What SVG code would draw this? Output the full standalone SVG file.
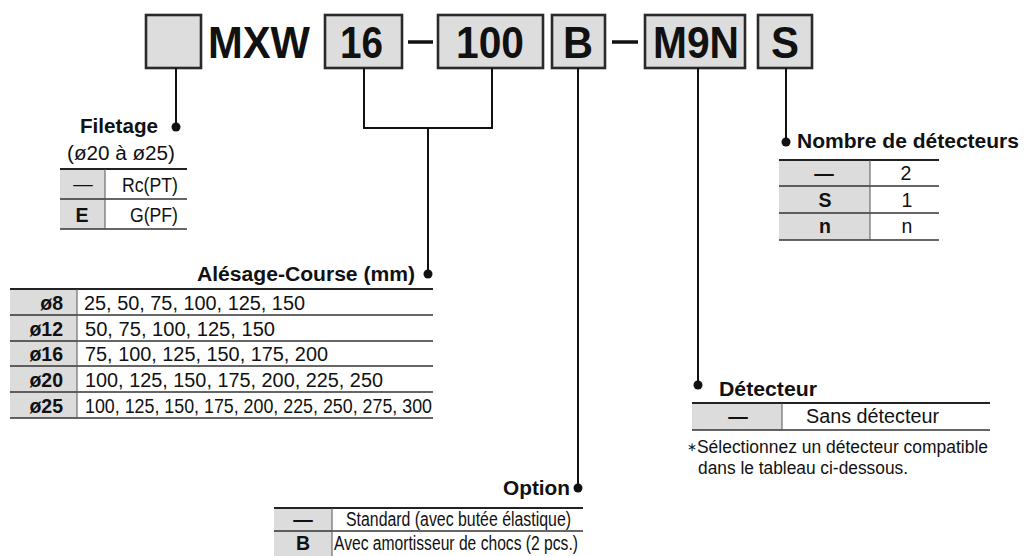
<svg xmlns="http://www.w3.org/2000/svg" width="1024" height="556" viewBox="0 0 1024 556">
<style>
  text { font-family: "Liberation Sans", Arial, Helvetica, sans-serif; fill: #111; }
  .title { font-size: 44px; font-weight: bold; }
  .lbl { font-size: 20px; font-weight: bold; }
  .cell { font-size: 19.5px; }
  .cellb { font-size: 19.5px; font-weight: bold; }
  .small { font-size: 17.5px; }
  .opt { font-size: 19.5px; }
  .box { fill: #dddddd; stroke: #2a2a2a; stroke-width: 2.6; }
  .gray { fill: #dcdcdc; }
  .wire { fill: none; stroke: #111; stroke-width: 2; }
  .dot { fill: #111; }
  .top { stroke: #222; stroke-width: 2.2; }
  .sep { stroke: #333; stroke-width: 1.4; }
  .div { stroke: #555; stroke-width: 1; }
  .dash { stroke: #111; stroke-width: 3.5; }
</style>

<g id="header">
  <g id="box-empty"><rect class="box" x="146" y="15" width="55" height="53"/></g>
  <g id="mxw"><text class="title" x="208" y="58" textLength="102" lengthAdjust="spacingAndGlyphs">MXW</text></g>
  <g id="box-16"><rect class="box" x="325" y="15" width="77" height="53"/><text class="title" x="340" y="58" textLength="43" lengthAdjust="spacingAndGlyphs">16</text></g>
  <line class="dash" x1="408" y1="42" x2="433" y2="42"/>
  <g id="box-100"><rect class="box" x="438" y="15" width="105" height="53"/><text class="title" x="456" y="58" textLength="68" lengthAdjust="spacingAndGlyphs">100</text></g>
  <g id="box-B"><rect class="box" x="552" y="15" width="53" height="53"/><text class="title" x="563" y="58" textLength="30" lengthAdjust="spacingAndGlyphs">B</text></g>
  <line class="dash" x1="612" y1="42" x2="638" y2="42"/>
  <g id="box-M9N"><rect class="box" x="645" y="15" width="100" height="53"/><text class="title" x="653" y="58" textLength="86" lengthAdjust="spacingAndGlyphs">M9N</text></g>
  <g id="box-S"><rect class="box" x="758" y="15" width="54" height="53"/><text class="title" x="771" y="58" textLength="28" lengthAdjust="spacingAndGlyphs">S</text></g>
</g>

<g id="connectors">
  <path class="wire" d="M176 68 V127"/>
  <circle class="dot" cx="176" cy="127" r="4.5"/>
  <path class="wire" d="M364 68 V128 H492 V68"/>
  <path class="wire" d="M428 128 V274"/>
  <circle class="dot" cx="428" cy="274" r="4.5"/>
  <path class="wire" d="M578 68 V488"/>
  <circle class="dot" cx="578" cy="488" r="4.5"/>
  <path class="wire" d="M698 68 V385"/>
  <circle class="dot" cx="698" cy="385" r="4.5"/>
  <path class="wire" d="M786 68 V142"/>
  <circle class="dot" cx="786" cy="142" r="4.5"/>
</g>

<g id="filetage">
  <text class="lbl" x="80" y="133" textLength="78" lengthAdjust="spacingAndGlyphs">Filetage</text>
  <text class="cell" x="67" y="160" textLength="108" lengthAdjust="spacingAndGlyphs">(ø20 à ø25)</text>
  <rect class="gray" x="60" y="169" width="45" height="60"/>
  <line class="top" x1="60" y1="169" x2="187" y2="169"/>
  <line class="sep" x1="60" y1="199" x2="187" y2="199"/>
  <line class="sep" x1="60" y1="229" x2="187" y2="229"/>
  <line class="div" x1="105" y1="169" x2="105" y2="229"/>
  <text class="cell" x="83" y="191" text-anchor="middle" font-size="20">—</text>
  <text class="cell" x="122" y="192" textLength="56" lengthAdjust="spacingAndGlyphs">Rc(PT)</text>
  <text class="cellb" x="82" y="222" text-anchor="middle">E</text>
  <text class="cell" x="130" y="222" textLength="48" lengthAdjust="spacingAndGlyphs">G(PF)</text>
</g>

<g id="alesage">
  <text class="lbl" x="197" y="281" textLength="218" lengthAdjust="spacingAndGlyphs">Alésage-Course (mm)</text>
  <rect class="gray" x="10" y="289" width="67" height="129"/>
  <line class="top" x1="10" y1="289" x2="433" y2="289"/>
  <line class="sep" x1="10" y1="315" x2="433" y2="315"/>
  <line class="sep" x1="10" y1="341" x2="433" y2="341"/>
  <line class="sep" x1="10" y1="366" x2="433" y2="366"/>
  <line class="sep" x1="10" y1="392" x2="433" y2="392"/>
  <line class="sep" x1="10" y1="418" x2="433" y2="418"/>
  <line class="div" x1="77" y1="289" x2="77" y2="418"/>
  <text class="cellb" x="63" y="310" text-anchor="end">ø8</text>
  <text class="cellb" x="63" y="336" text-anchor="end">ø12</text>
  <text class="cellb" x="63" y="361" text-anchor="end">ø16</text>
  <text class="cellb" x="63" y="387" text-anchor="end">ø20</text>
  <text class="cellb" x="63" y="413" text-anchor="end">ø25</text>
  <text class="cell" x="84" y="310" textLength="221" lengthAdjust="spacingAndGlyphs">25, 50, 75, 100, 125, 150</text>
  <text class="cell" x="85" y="336" textLength="190" lengthAdjust="spacingAndGlyphs">50, 75, 100, 125, 150</text>
  <text class="cell" x="85" y="361" textLength="243" lengthAdjust="spacingAndGlyphs">75, 100, 125, 150, 175, 200</text>
  <text class="cell" x="85" y="387" textLength="298" lengthAdjust="spacingAndGlyphs">100, 125, 150, 175, 200, 225, 250</text>
  <text class="cell" x="85" y="413" textLength="347" lengthAdjust="spacingAndGlyphs">100, 125, 150, 175, 200, 225, 250, 275, 300</text>
</g>

<g id="nombre">
  <text class="lbl" x="797" y="148" textLength="222" lengthAdjust="spacingAndGlyphs">Nombre de détecteurs</text>
  <rect class="gray" x="779" y="160" width="91" height="80"/>
  <line class="top" x1="779" y1="160" x2="939" y2="160"/>
  <line class="sep" x1="779" y1="186" x2="939" y2="186"/>
  <line class="sep" x1="779" y1="213" x2="939" y2="213"/>
  <line class="sep" x1="779" y1="240" x2="939" y2="240"/>
  <line class="div" x1="870" y1="160" x2="870" y2="240"/>
  <text class="cellb" x="824" y="180" text-anchor="middle" font-size="21">—</text>
  <text class="cell" x="906" y="180" text-anchor="middle">2</text>
  <text class="cellb" x="825" y="207" text-anchor="middle">S</text>
  <text class="cell" x="907" y="207" text-anchor="middle">1</text>
  <text class="cellb" x="825" y="233" text-anchor="middle">n</text>
  <text class="cell" x="907" y="233" text-anchor="middle">n</text>
</g>

<g id="detecteur">
  <text class="lbl" x="719" y="396" textLength="98" lengthAdjust="spacingAndGlyphs">Détecteur</text>
  <rect class="gray" x="692" y="403" width="90" height="27"/>
  <line class="top" x1="692" y1="403" x2="990" y2="403"/>
  <line class="sep" x1="692" y1="430" x2="990" y2="430"/>
  <line class="div" x1="782" y1="403" x2="782" y2="430"/>
  <text class="cellb" x="738" y="423" text-anchor="middle" font-size="22">—</text>
  <text class="cell" x="806" y="423" textLength="133" lengthAdjust="spacingAndGlyphs">Sans détecteur</text>
  <text class="small" x="687" y="453" textLength="301" lengthAdjust="spacingAndGlyphs"><tspan font-size="12" dy="-2">∗</tspan><tspan dy="2">Sélectionnez un détecteur compatible</tspan></text>
  <text class="small" x="698" y="474" textLength="210" lengthAdjust="spacingAndGlyphs">dans le tableau ci-dessous.</text>
</g>

<g id="option">
  <text class="lbl" x="503" y="495" textLength="67" lengthAdjust="spacingAndGlyphs">Option</text>
  <rect class="gray" x="274" y="508" width="58" height="48"/>
  <line class="top" x1="274" y1="508" x2="583" y2="508"/>
  <line class="sep" x1="274" y1="531" x2="583" y2="531"/>
  <line class="div" x1="332" y1="508" x2="332" y2="556"/>
  <text class="cellb" x="303" y="526" text-anchor="middle" font-size="20">—</text>
  <text class="opt" x="346" y="526" textLength="225" lengthAdjust="spacingAndGlyphs">Standard (avec butée élastique)</text>
  <text class="cellb" x="303" y="550" text-anchor="middle">B</text>
  <text class="opt" x="334" y="550" textLength="244" lengthAdjust="spacingAndGlyphs">Avec amortisseur de chocs (2 pcs.)</text>
</g>
</svg>
